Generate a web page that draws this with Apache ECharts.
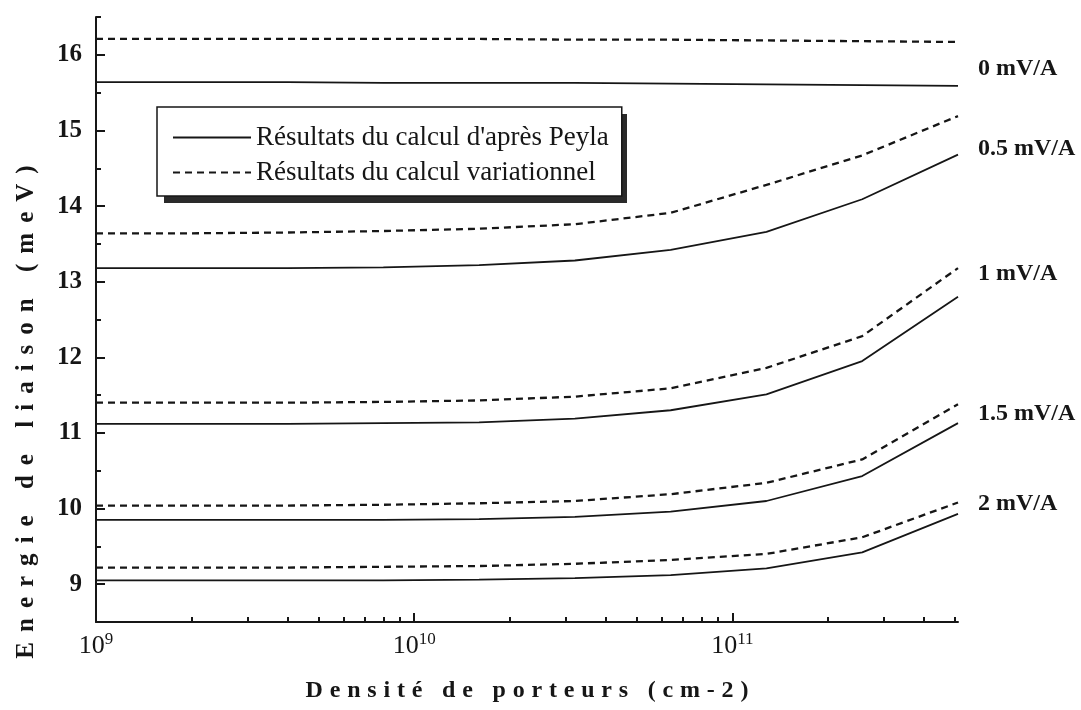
<!DOCTYPE html>
<html>
<head>
<meta charset="utf-8">
<script src="https://cdn.jsdelivr.net/npm/echarts@6/dist/echarts.min.js"></script>
<style>
html, body { margin: 0; background: #fff; }
#energy-chart { width: 1081px; height: 710px; }
</style>
</head>
<body>
<div id="energy-chart"></div>
<script>
// carrier density (cm-2), doubling at each point
const densities = [1e9, 2e9, 4e9, 8e9, 1.6e10, 3.2e10, 6.4e10, 1.28e11, 2.56e11, 5.12e11];
const fields = ['0 mV/A', '0.5 mV/A', '1 mV/A', '1.5 mV/A', '2 mV/A'];

// binding energy (meV), one row per field
const peyla = [
    [15.64, 15.64, 15.64, 15.63, 15.63, 15.63, 15.62, 15.61, 15.60, 15.59],
    [13.18, 13.18, 13.18, 13.19, 13.22, 13.28, 13.42, 13.66, 14.09, 14.68],
    [11.12, 11.12, 11.12, 11.13, 11.14, 11.19, 11.30, 11.51, 11.95, 12.80],
    [9.85, 9.85, 9.85, 9.85, 9.86, 9.89, 9.96, 10.10, 10.43, 11.13],
    [9.05, 9.05, 9.05, 9.05, 9.06, 9.08, 9.12, 9.21, 9.42, 9.93]
];
const variational = [
    [16.21, 16.21, 16.21, 16.21, 16.21, 16.20, 16.20, 16.19, 16.18, 16.17],
    [13.64, 13.64, 13.65, 13.67, 13.70, 13.76, 13.91, 14.28, 14.67, 15.19],
    [11.40, 11.40, 11.40, 11.41, 11.43, 11.48, 11.59, 11.86, 12.28, 13.18],
    [10.04, 10.04, 10.04, 10.05, 10.07, 10.10, 10.19, 10.34, 10.65, 11.38],
    [9.22, 9.22, 9.22, 9.23, 9.24, 9.27, 9.32, 9.40, 9.62, 10.08]
];

const xMajorTicks = [1e9, 1e10, 1e11];
const xMinorTicks = [2e9, 3e9, 4e9, 5e9, 6e9, 7e9, 8e9, 9e9,
    2e10, 3e10, 4e10, 5e10, 6e10, 7e10, 8e10, 9e10,
    2e11, 3e11, 4e11, 5e11];
const yMajorTicks = [9, 10, 11, 12, 13, 14, 15, 16];
const yMinorTicks = [9.5, 10.5, 11.5, 12.5, 13.5, 14.5, 15.5, 16.5];

const legendNames = ["Résultats du calcul d'après Peyla", 'Résultats du calcul variationnel'];

// vertical shift of the field labels relative to the solid line end (px)
const fieldLabelShift = [-17, -6, -23, -9, -10];

const serif = "'Liberation Serif', 'Times New Roman', serif";
const ink = '#161616';

// the scanned axis titles are widely letter-spaced
function tracked(str, gap) {
    return str.split('').join(gap);
}

let series = [];
fields.forEach(function (field, i) {
    series.push({
        name: legendNames[0],
        type: 'line',
        symbol: 'none',
        data: densities.map(function (d, j) { return [d, peyla[i][j]]; }),
        itemStyle: { color: ink, opacity: 0 },
        lineStyle: { color: ink, width: 1.8, opacity: 1 },
        endLabel: {
            show: true,
            formatter: field,
            distance: 20,
            offset: [0, fieldLabelShift[i]],
            fontFamily: serif,
            fontSize: 24,
            fontWeight: 'bold',
            color: ink,
            opacity: 1
        }
    });
    series.push({
        name: legendNames[1],
        type: 'line',
        symbol: 'none',
        data: densities.map(function (d, j) { return [d, variational[i][j]]; }),
        itemStyle: { color: ink, opacity: 0 },
        lineStyle: { color: ink, width: 2.3, type: [7, 5], opacity: 1 }
    });
});

const option = {
    animation: false,
    backgroundColor: '#fff',
    grid: { left: 96, right: 123, top: 17, bottom: 88 },
    legend: {
        data: legendNames,
        orient: 'vertical',
        left: 157,
        top: 107,
        itemWidth: 78,
        itemHeight: 14,
        itemGap: 8,
        padding: [17, 13, 10, 15],
        backgroundColor: '#fff',
        borderColor: ink,
        borderWidth: 1.5,
        borderRadius: 0,
        selectedMode: false,
        textStyle: { fontFamily: serif, fontSize: 27, color: ink }
    },
    xAxis: [
        {
            type: 'log',
            logBase: 10,
            min: 1e9,
            max: 5.12e11,
            axisLine: { lineStyle: { color: ink, width: 2 } },
            axisTick: { inside: true, length: 9, customValues: xMajorTicks, lineStyle: { color: ink, width: 2 } },
            splitLine: { show: false },
            axisLabel: {
                customValues: xMajorTicks,
                margin: 9,
                formatter: function (v) {
                    return '{b|10}{s|' + Math.round(Math.log10(v)) + '}';
                },
                rich: {
                    b: { fontFamily: serif, fontSize: 26, color: ink },
                    s: { fontFamily: serif, fontSize: 17, color: ink, padding: [0, 0, 13, 0] }
                }
            },
            name: tracked('Densité de porteurs (cm-2)', '\u2009\u200a'),
            nameLocation: 'middle',
            nameGap: 57,
            nameTextStyle: { fontFamily: serif, fontSize: 24, fontWeight: 'bold', color: ink }
        },
        {
            type: 'log',
            logBase: 10,
            min: 1e9,
            max: 5.12e11,
            position: 'bottom',
            axisLine: { show: false },
            axisTick: { inside: true, length: 5, customValues: xMinorTicks, lineStyle: { color: ink, width: 2 } },
            axisLabel: { show: false },
            splitLine: { show: false }
        }
    ],
    yAxis: [
        {
            type: 'value',
            min: 8.5,
            max: 16.5,
            axisLine: { show: true, lineStyle: { color: ink, width: 2 } },
            axisTick: { show: true, inside: true, length: 9, customValues: yMajorTicks, lineStyle: { color: ink, width: 2 } },
            axisLabel: {
                customValues: yMajorTicks,
                margin: 14,
                fontFamily: serif,
                fontSize: 25,
                fontWeight: 'bold',
                color: ink
            },
            splitLine: { show: false }
        },
        {
            type: 'value',
            min: 8.5,
            max: 16.5,
            position: 'left',
            offset: 0,
            axisLine: { show: false },
            axisTick: { show: true, inside: true, length: 5, customValues: yMinorTicks, lineStyle: { color: ink, width: 2 } },
            axisLabel: { show: false },
            splitLine: { show: false }
        }
    ],
    graphic: [
        {
            // drop shadow behind the legend box
            type: 'rect',
            z: 3,
            shape: { x: 164, y: 114, width: 463, height: 89 },
            style: { fill: '#2a2a2a' }
        },
        {
            type: 'text',
            x: 27,
            y: 412,
            rotation: Math.PI / 2,
            style: {
                text: tracked('Energie de liaison (meV)', '\u2009\u2009'),
                fontFamily: serif,
                fontSize: 25,
                fontWeight: 'bold',
                fill: ink,
                align: 'center',
                verticalAlign: 'middle'
            }
        }
    ],
    series: series
};

window.onload = function () {
    const myChart = echarts.init(document.getElementById('energy-chart'));
    myChart.setOption(option);
};
</script>
</body>
</html>
